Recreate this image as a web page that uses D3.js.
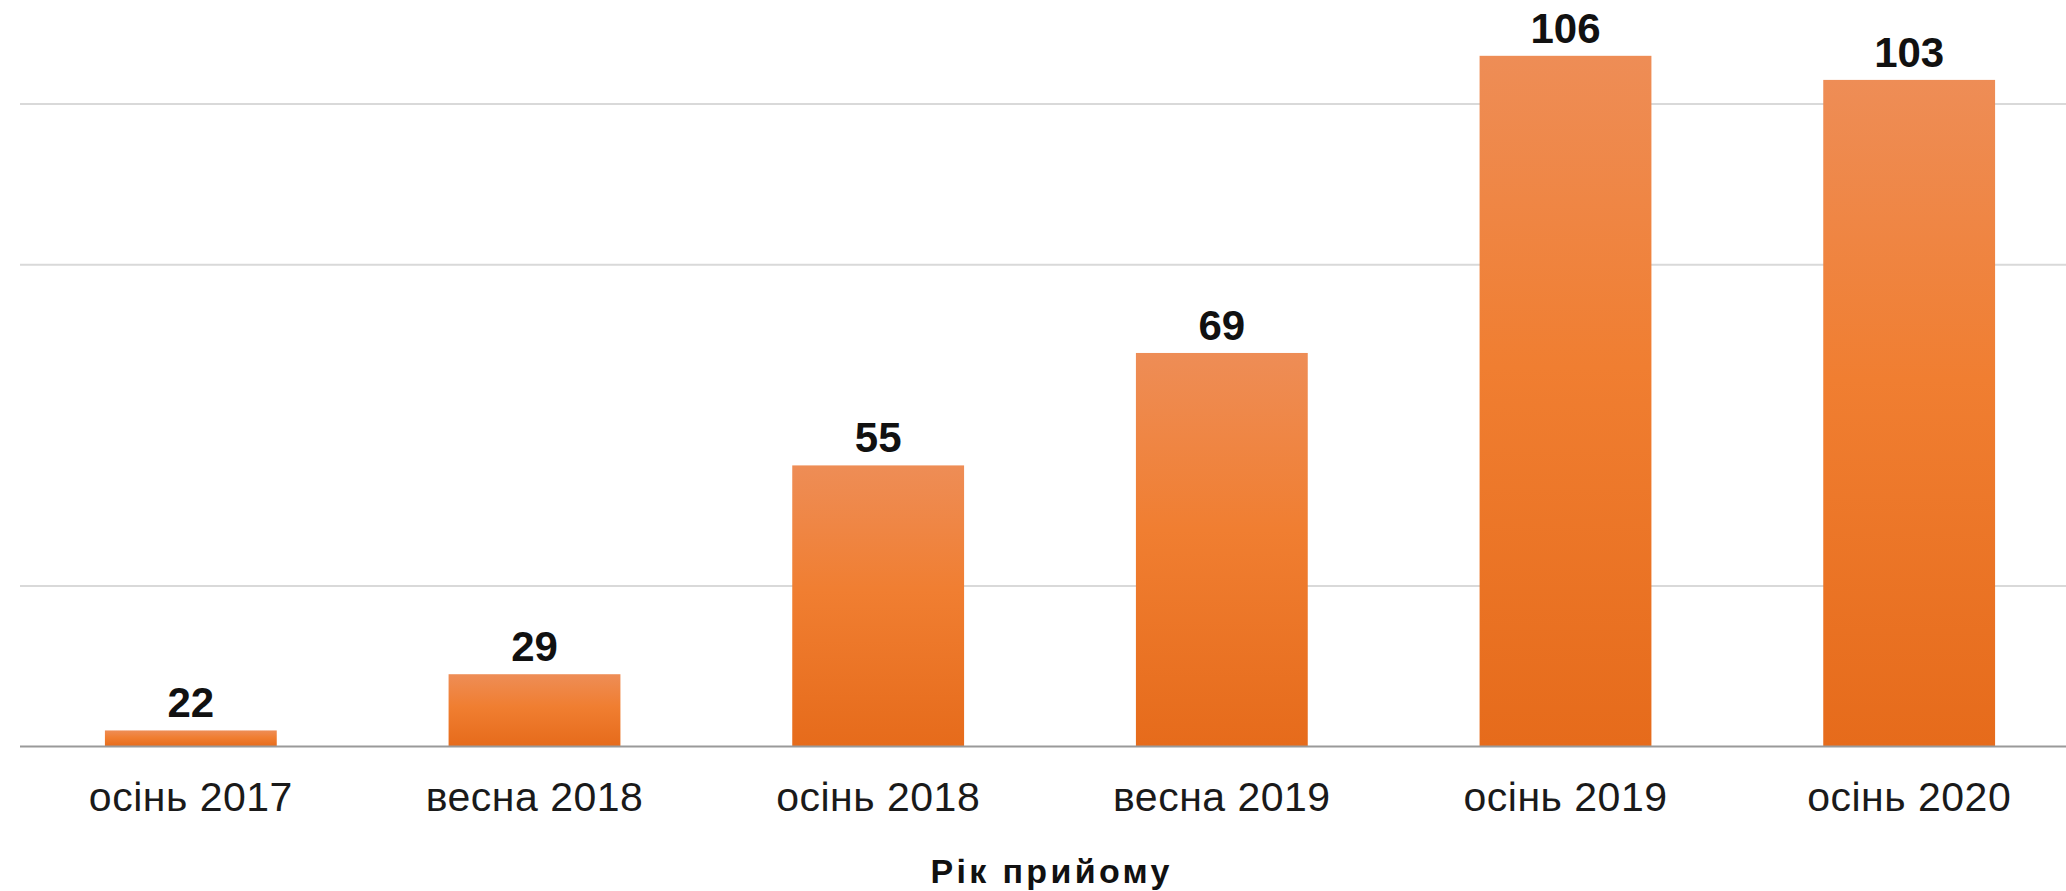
<!DOCTYPE html>
<html>
<head>
<meta charset="utf-8">
<script src="https://cdn.jsdelivr.net/npm/d3@7"></script>
<style>
  html, body { margin: 0; padding: 0; background: #fff; }
  svg { display: block; font-family: "Liberation Sans", Arial, sans-serif; }
</style>
</head>
<body>
<div id="chart"></div>
<script>
// données
var categories = ["осінь 2017", "весна 2018", "осінь 2018", "весна 2019", "осінь 2019", "осінь 2020"];
var values = [22, 29, 55, 69, 106, 103];
var gridTicks = [40, 80, 100]; // la ligne de 60 n'apparait pas sur l'original
var axisTitle = "Рік прийому";

var width = 2066;
var height = 891;

var svg = d3.select("#chart").append("svg")
  .attr("width", width)
  .attr("height", height);

// dégradé des barres
var grad = svg.append("defs").append("linearGradient")
  .attr("id", "barGrad")
  .attr("x1", 0).attr("y1", 0).attr("x2", 0).attr("y2", 1);
grad.append("stop").attr("offset", "0%").attr("stop-color", "#ee8d56");
grad.append("stop").attr("offset", "45%").attr("stop-color", "#f07e31");
grad.append("stop").attr("offset", "100%").attr("stop-color", "#e66b1b");

// échelles
var x = d3.scaleBand().domain(categories).range([19, 2081]).paddingInner(0.5).paddingOuter(0.25);
var y = d3.scaleLinear().domain([20, 100]).range([746.5, 104]);

// grille horizontale
svg.selectAll("line.grid").data(gridTicks)
  .enter().append("line")
  .attr("class", "grid")
  .attr("x1", 20).attr("x2", width)
  .attr("y1", function(d) { return y(d); })
  .attr("y2", function(d) { return y(d); })
  .attr("stroke", "#d9d9d9")
  .attr("stroke-width", 2);

// barres
svg.selectAll("rect.bar").data(values)
  .enter().append("rect")
  .attr("class", "bar")
  .attr("x", function(d, i) { return x(categories[i]); })
  .attr("width", x.bandwidth())
  .attr("y", function(d) { return y(d); })
  .attr("height", function(d) { return y(20) - y(d); })
  .attr("fill", "url(#barGrad)");

// axe X (ligne de base + étiquettes)
var xAxis = svg.append("g")
  .attr("transform", "translate(0," + y(20) + ")")
  .call(d3.axisBottom(x).tickSize(0).tickPadding(0));
xAxis.select(".domain").remove();
xAxis.append("line")
  .attr("x1", 20).attr("x2", width)
  .attr("stroke", "#9a9a9a")
  .attr("stroke-width", 2);
xAxis.selectAll(".tick text")
  .attr("dy", null)
  .attr("y", 64)
  .attr("fill", "#1a1a1a")
  .style("font-size", "41px")
  .style("letter-spacing", "0.5px")
  .style("font-family", "'Liberation Sans', Arial, sans-serif");

// valeurs au-dessus des barres
svg.selectAll("text.val").data(values)
  .enter().append("text")
  .attr("class", "val")
  .attr("x", function(d, i) { return x(categories[i]) + x.bandwidth() / 2; })
  .attr("y", function(d) { return y(d) - 13; })
  .attr("text-anchor", "middle")
  .attr("fill", "#111")
  .style("font-size", "42px")
  .style("font-weight", "bold")
  .text(function(d) { return d; });

// titre de l'axe
svg.append("text")
  .attr("x", (x.range()[0] + x.range()[1]) / 2)
  .attr("y", 883)
  .attr("text-anchor", "middle")
  .attr("fill", "#111")
  .attr("textLength", 239)
  .attr("lengthAdjust", "spacing")
  .style("font-size", "34px")
  .style("font-weight", "bold")
  .text(axisTitle);
</script>
</body>
</html>
